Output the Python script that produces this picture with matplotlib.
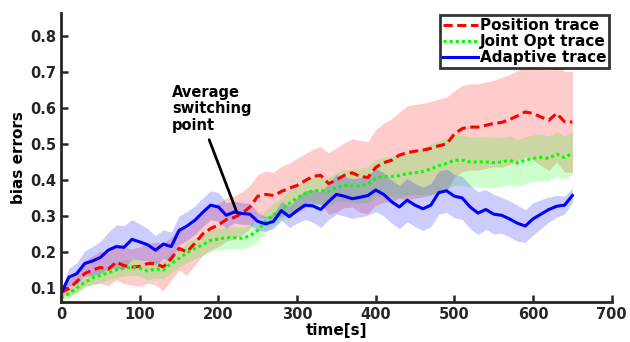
import numpy as np
import matplotlib
matplotlib.use('Agg')
import matplotlib.pyplot as plt

# time grid [s]
t = np.arange(0, 651, 10)

position_mean = [0.088, 0.098, 0.118, 0.140, 0.150, 0.157, 0.152, 0.172, 0.162, 0.158,
                 0.160, 0.168, 0.168, 0.158, 0.182, 0.210, 0.200, 0.224, 0.250, 0.265,
                 0.275, 0.290, 0.296, 0.307, 0.325, 0.355, 0.360, 0.357, 0.368, 0.377,
                 0.385, 0.398, 0.410, 0.413, 0.390, 0.400, 0.413, 0.420, 0.410, 0.407,
                 0.435, 0.448, 0.455, 0.469, 0.476, 0.480, 0.483, 0.488, 0.495, 0.500,
                 0.528, 0.543, 0.547, 0.547, 0.552, 0.557, 0.560, 0.568, 0.578, 0.589,
                 0.585, 0.575, 0.566, 0.585, 0.562, 0.561]
position_hw = [0.010, 0.020, 0.030, 0.035, 0.040, 0.045, 0.045, 0.050, 0.050, 0.050,
               0.055, 0.055, 0.060, 0.065, 0.060, 0.060, 0.065, 0.060, 0.060, 0.060,
               0.060, 0.060, 0.060, 0.060, 0.060, 0.060, 0.065, 0.065, 0.070, 0.070,
               0.075, 0.075, 0.075, 0.080, 0.085, 0.090, 0.090, 0.095, 0.100, 0.100,
               0.105, 0.110, 0.115, 0.120, 0.130, 0.130, 0.130, 0.130, 0.130, 0.130,
               0.120, 0.120, 0.120, 0.120, 0.120, 0.120, 0.125, 0.125, 0.125, 0.125,
               0.130, 0.135, 0.140, 0.135, 0.140, 0.140]

joint_mean = [0.072, 0.085, 0.100, 0.115, 0.128, 0.135, 0.142, 0.150, 0.155, 0.157,
              0.155, 0.147, 0.153, 0.150, 0.168, 0.182, 0.198, 0.210, 0.220, 0.232,
              0.236, 0.240, 0.240, 0.238, 0.245, 0.260, 0.285, 0.304, 0.315, 0.335,
              0.350, 0.362, 0.370, 0.371, 0.368, 0.380, 0.385, 0.384, 0.383, 0.388,
              0.405, 0.410, 0.410, 0.412, 0.418, 0.420, 0.424, 0.430, 0.440, 0.446,
              0.455, 0.455, 0.450, 0.450, 0.450, 0.448, 0.450, 0.455, 0.447, 0.455,
              0.460, 0.463, 0.460, 0.472, 0.462, 0.475]
joint_hw = [0.010, 0.012, 0.015, 0.015, 0.018, 0.020, 0.020, 0.022, 0.022, 0.022,
            0.022, 0.025, 0.025, 0.025, 0.025, 0.025, 0.028, 0.028, 0.030, 0.030,
            0.030, 0.030, 0.030, 0.030, 0.030, 0.030, 0.030, 0.032, 0.032, 0.035,
            0.035, 0.035, 0.038, 0.040, 0.040, 0.040, 0.045, 0.045, 0.048, 0.050,
            0.050, 0.055, 0.055, 0.060, 0.060, 0.060, 0.065, 0.070, 0.070, 0.070,
            0.070, 0.070, 0.070, 0.070, 0.070, 0.070, 0.068, 0.068, 0.065, 0.065,
            0.065, 0.065, 0.062, 0.062, 0.060, 0.060]

adaptive_mean = [0.085, 0.130, 0.140, 0.168, 0.175, 0.185, 0.205, 0.215, 0.213, 0.235,
                 0.228, 0.220, 0.205, 0.222, 0.215, 0.260, 0.272, 0.288, 0.310, 0.330,
                 0.325, 0.302, 0.311, 0.307, 0.305, 0.285, 0.278, 0.285, 0.315, 0.298,
                 0.315, 0.330, 0.328, 0.318, 0.340, 0.360, 0.355, 0.348, 0.352, 0.357,
                 0.372, 0.360, 0.340, 0.325, 0.344, 0.330, 0.320, 0.330, 0.365, 0.370,
                 0.355, 0.350, 0.325, 0.308, 0.318, 0.305, 0.302, 0.292, 0.280, 0.272,
                 0.292, 0.305, 0.318, 0.327, 0.330, 0.357]
adaptive_hw = [0.010, 0.025, 0.030, 0.035, 0.040, 0.045, 0.050, 0.060, 0.060, 0.055,
               0.050, 0.045, 0.040, 0.040, 0.040, 0.040, 0.040, 0.040, 0.040, 0.040,
               0.040, 0.035, 0.030, 0.030, 0.030, 0.025, 0.020, 0.020, 0.025, 0.030,
               0.035, 0.040, 0.045, 0.050, 0.050, 0.055, 0.055, 0.055, 0.055, 0.055,
               0.060, 0.060, 0.060, 0.060, 0.060, 0.060, 0.060, 0.060, 0.060, 0.060,
               0.060, 0.060, 0.060, 0.060, 0.055, 0.055, 0.050, 0.050, 0.050, 0.045,
               0.045, 0.040, 0.035, 0.030, 0.025, 0.020]

plt.rcParams['font.family'] = 'DejaVu Sans'
plt.rcParams['font.weight'] = 'bold'

fig = plt.figure(figsize=(6.3, 3.42), dpi=100)
fig.set_facecolor('white')
ax = fig.add_axes([0.097, 0.118, 0.874, 0.844])

series = [
    ('Position trace', position_mean, position_hw, (1, 0, 0), (0, (3, 1.5))),
    ('Joint Opt trace', joint_mean, joint_hw, (0, 1, 0), (0, (1, 1))),
    ('Adaptive trace', adaptive_mean, adaptive_hw, (0, 0, 1), '-'),
]

for label, m, hw, c, ls in series:
    m = np.array(m)
    hw = np.array(hw)
    ax.fill_between(t, m - hw, m + hw, color=c, alpha=0.2, linewidth=0)

for label, m, hw, c, ls in series:
    ax.plot(t, m, color=c, linestyle=ls, linewidth=2.2, label=label)

ax.set_xlim(0, 700)
ax.set_ylim(0.062, 0.864)
ax.set_xticks(range(0, 701, 100))
ax.set_yticks([0.1, 0.2, 0.3, 0.4, 0.5, 0.6, 0.7, 0.8])
ax.set_yticklabels(['0.1', '0.2', '0.3', '0.4', '0.5', '0.6', '0.7', '0.8'])
ax.tick_params(direction='in', length=5, width=1.8, labelsize=10.5,
               colors='#262626')
for s in ['top', 'right']:
    ax.spines[s].set_visible(False)
for s in ['left', 'bottom']:
    ax.spines[s].set_linewidth(2)
    ax.spines[s].set_color('#262626')

ax.set_xlabel('time[s]', fontsize=11, fontweight='bold', labelpad=1)
ax.set_ylabel('bias errors', fontsize=11, fontweight='bold', labelpad=3)

ax.annotate('', xy=(224, 0.307), xytext=(187, 0.519),
            arrowprops=dict(arrowstyle='-', color='black', lw=2))
ax.text(141, 0.665, 'Average\nswitching\npoint', fontsize=10.5,
        fontweight='bold', ha='left', va='top', linespacing=1.15)

leg = ax.legend(loc='upper right', fontsize=11, frameon=True, fancybox=False,
                borderaxespad=0.15, handlelength=2.3, handletextpad=0.1,
                labelspacing=0.05, borderpad=0.2)
leg.get_frame().set_edgecolor('black')
leg.get_frame().set_linewidth(2)

fig.savefig('out.png', dpi=100, facecolor='white')
